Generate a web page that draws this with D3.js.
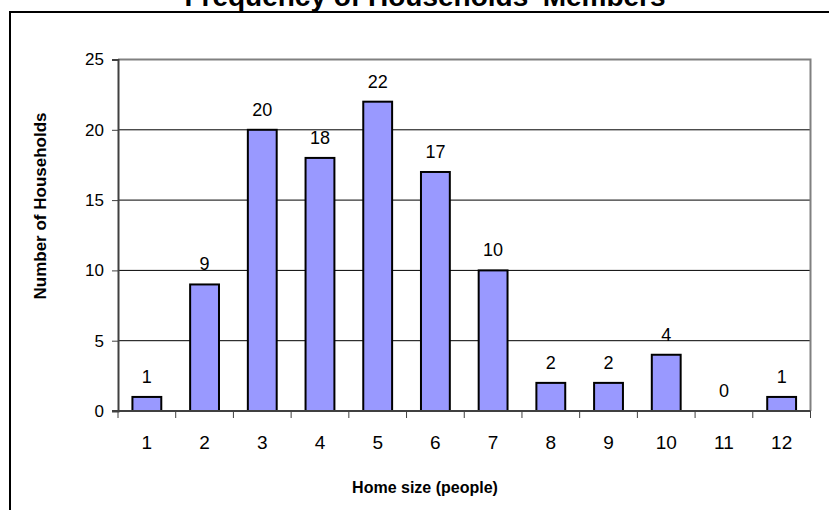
<!DOCTYPE html>
<html>
<head>
<meta charset="utf-8">
<title>Frequency of Households' Members</title>
<script src="https://d3js.org/d3.v7.min.js"></script>
<style>
body { margin: 0; background: #fff; }
svg text { font-family: Arial, "Liberation Sans", sans-serif; fill: #000; }
</style>
</head>
<body>
<div id="chart"></div>
<script>
// data
var sizes = ["1","2","3","4","5","6","7","8","9","10","11","12"];
var households = [1, 9, 20, 18, 22, 17, 10, 2, 2, 4, 0, 1];
var yTicks = [0, 5, 10, 15, 20, 25];

var W = 829, H = 510;
var plotL = 118, plotR = 810.5, plotT = 59.5, plotB = 411;

var svg = d3.select("#chart").append("svg")
    .attr("width", W)
    .attr("height", H);

// outer chart frame (runs off the picture on right and bottom)
svg.append("rect")
    .attr("x", 10).attr("y", 12)
    .attr("width", 900).attr("height", 600)
    .attr("fill", "none")
    .attr("stroke", "#000")
    .attr("stroke-width", 2);

svg.append("text")
    .attr("x", 425).attr("y", 6)
    .attr("text-anchor", "middle")
    .style("font-size", "28px")
    .style("font-weight", "bold")
    .text("Frequency of Households' Members");

var xs = d3.scaleBand().domain(sizes).range([plotL, plotR])
    .paddingInner(0.5).paddingOuter(0.25);
var ys = d3.scaleLinear().domain([0, 25]).range([plotB, plotT]);

// gridlines
svg.append("g").selectAll("line")
    .data(yTicks.filter(function(d) { return d > 0 && d < 25; }))
    .enter().append("line")
    .attr("x1", plotL).attr("x2", plotR)
    .attr("y1", function(d) { return ys(d); })
    .attr("y2", function(d) { return ys(d); })
    .attr("stroke", "#000")
    .attr("stroke-width", 1);

// plot border: top and right in gray
svg.append("path")
    .attr("d", "M" + plotL + "," + ys(25) + "H" + plotR + "V" + plotB)
    .attr("fill", "none")
    .attr("stroke", "#808080")
    .attr("stroke-width", 2);

// bars
svg.append("g").selectAll("rect")
    .data(households)
    .enter().append("rect")
    .attr("x", function(d, i) { return xs(sizes[i]); })
    .attr("y", function(d) { return ys(d); })
    .attr("width", xs.bandwidth())
    .attr("height", function(d) { return ys(0) - ys(d); })
    .attr("fill", "#9999ff")
    .attr("stroke", "#000")
    .attr("stroke-width", 2);

// value labels
svg.append("g").selectAll("text")
    .data(households)
    .enter().append("text")
    .attr("x", function(d, i) { return xs(sizes[i]) + xs.bandwidth() / 2; })
    .attr("y", function(d) { return ys(d) - 14; })
    .attr("text-anchor", "middle")
    .style("font-size", "18px")
    .text(function(d) { return d; });

// y axis
var yAxis = svg.append("g")
    .attr("transform", "translate(" + plotL + ",0)")
    .call(d3.axisLeft(ys).tickValues(yTicks).tickSize(6).tickPadding(8));
yAxis.select(".domain").attr("stroke", "#404040").attr("stroke-width", 2);
yAxis.selectAll(".tick line").attr("stroke", "#404040");
yAxis.selectAll("text").style("font-size", "17px").attr("fill", "#000")
    .style("font-family", "Arial, 'Liberation Sans', sans-serif");

// x axis with ticks on category boundaries
var xAxis = svg.append("g")
    .attr("transform", "translate(0," + plotB + ")");
xAxis.append("line")
    .attr("x1", plotL - 6).attr("x2", plotR)
    .attr("stroke", "#404040").attr("stroke-width", 2);
xAxis.selectAll(".xt")
    .data(d3.range(sizes.length + 1))
    .enter().append("line")
    .attr("class", "xt")
    .attr("x1", function(i) { return plotL + i * xs.step(); })
    .attr("x2", function(i) { return plotL + i * xs.step(); })
    .attr("y1", 0).attr("y2", 7)
    .attr("stroke", "#404040");
xAxis.selectAll(".xl")
    .data(sizes)
    .enter().append("text")
    .attr("class", "xl")
    .attr("x", function(d) { return xs(d) + xs.bandwidth() / 2; })
    .attr("y", 38)
    .attr("text-anchor", "middle")
    .style("font-size", "19px")
    .text(function(d) { return d; });

// axis titles
svg.append("text")
    .attr("x", 425).attr("y", 493)
    .attr("text-anchor", "middle")
    .style("font-size", "16px")
    .style("font-weight", "bold")
    .text("Home size (people)");

svg.append("text")
    .attr("transform", "translate(46,206) rotate(-90)")
    .attr("text-anchor", "middle")
    .style("font-size", "17px")
    .style("font-weight", "bold")
    .text("Number of Households");
</script>
</body>
</html>
